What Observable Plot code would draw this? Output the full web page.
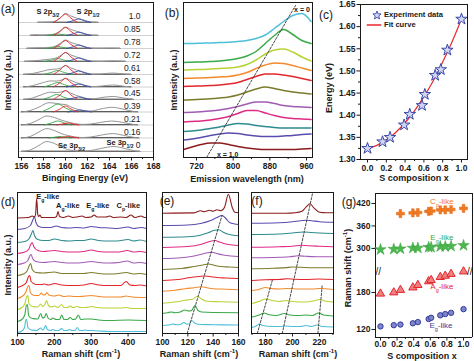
<!DOCTYPE html>
<html><head><meta charset="utf-8">
<script src="https://cdn.jsdelivr.net/npm/d3@7"></script>
<script src="https://cdn.jsdelivr.net/npm/@observablehq/plot@0.6"></script>
<style>
body{margin:0;background:#fff;}
#fig{position:relative;width:474px;height:361px;overflow:hidden;background:#fff;font-family:"Liberation Sans",Arial,sans-serif;}
.lbl{position:absolute;white-space:nowrap;line-height:1;transform:translate(-50%,-50%);font-weight:bold;font-size:9px;color:#1a1a1a;}
.lbl sub,.lbl sup{font-size:68%;line-height:0;}
.tagp{font-weight:normal;font-size:12px;}
</style>
</head><body><div id="fig"></div>
<script>
// ---------------- DATA ----------------
const comps = ["0","0.16","0.21","0.39","0.45","0.58","0.61","0.72","0.78","0.85","1.0"];
const sX = [0,0.16,0.24,0.39,0.45,0.58,0.61,0.72,0.78,0.85,1.0];
const compColors = ["#4ebfd8","#3aa947","#b6d436","#f38a2c","#e3262b","#7b7c2b","#a25bb4","#e02b86","#2e8b8e","#5a4cae","#8c1c1e"];

// (a) XPS, per composition: [x, rel. intensity] pairs
const xpsBase = [6,19.5,32.5,45.5,58,70.5,83,96,109,122,135];
const xpsEnv = [
 [156,0,156.8,1.5,157.5,5.5,158.3,10,159,8,159.6,4.5,160.2,2,160.8,0.8,161.5,0.4,162.3,1,163.2,3,164.4,5,165.4,3,166.4,0.5,166.8,0],
 [156,0,156.8,1.5,157.5,5.5,158.3,9.4,159,7.5,159.6,4.5,160.2,2.5,160.8,1.2,161.5,0.5,162.3,1,163.2,2.8,164.3,4.4,165.3,2.6,166.3,0.5,166.7,0],
 [156,0,156.8,1.5,157.5,5,158.3,9,159,7.5,159.6,5,160.2,3,160.8,1.5,161.5,0.6,162.3,1,163.2,2.6,164.2,4,165.2,2.6,166.2,0.5,166.6,0],
 [156,0,156.8,1.5,157.6,5,158.5,9.3,159.2,8.5,159.6,7.8,160,7.5,160.5,5,161,3,161.6,1.5,162.3,1,163.2,3,164.2,4.7,165.2,3,166.2,0.5,166.6,0],
 [156.2,0,157,1.5,158,5.5,158.6,7.3,159.2,7,159.6,7.5,160,8.8,160.5,6.3,161,4,161.5,2.4,162,1,162.6,0.8,163.3,2,164.3,3,165.3,1.5,166.2,0],
 [156.2,0,157,1.3,158,4.5,158.6,6,159.2,6,159.6,6.8,160,8.8,160.5,6.5,161,4.3,161.5,2.8,162,1,162.6,0.4,163.3,1,164.3,2,165.5,0.5,166,0],
 [156.2,0,157,1,158,3.5,158.6,5,159.2,5.5,159.6,6.5,160,9,160.5,6.5,161,4.5,161.5,3,162,1.2,162.6,0.3,163.2,0.5,164.3,1.5,165.5,0.3,166,0],
 [156.3,0,157.3,0.8,158.3,2,159,3,159.5,5.5,160,9,160.5,6.5,161,4.5,161.5,3,162,1.2,162.6,0.2,163.2,0,164.3,0.6,165.5,0],
 [156.5,0,157.2,0.6,158,0.8,158.6,1.2,159,2,159.5,5,160,8.5,160.5,6,161,4.3,161.5,2.8,162,1,162.5,0.2,163,0,164,0.3,165,0],
 [156.8,0,157.3,0.6,157.8,0.3,158.5,0.8,159,1.5,159.5,4.5,160,8.5,160.5,6,161,4.3,161.5,2.8,162,1,162.5,0.2,163,0],
 [157.5,0,158.5,0.3,159,1,159.5,4.5,160,9,160.5,6.5,161,4.5,161.5,3,162,1.2,162.5,0.3,163,0]
];
const xpsRed = [
 null,
 [159.3,0,159.8,0.8,160.2,1.5,160.7,0.8,161.2,0],
 [159.2,0,159.7,1,160.2,2,160.7,1,161.2,0],
 [158.9,0,159.5,3,160,6,160.5,3,161.1,0],
 [158.9,0,159.5,4.5,160,9,160.5,4.5,161.1,0],
 [158.9,0,159.5,4.3,160,8.5,160.5,4.3,161.1,0],
 [158.9,0,159.5,4.5,160,9,160.5,4.5,161.1,0],
 [158.9,0,159.5,4.5,160,9,160.5,4.5,161.1,0],
 [158.9,0,159.5,4,160,8,160.5,4,161.1,0],
 [158.9,0,159.5,4,160,8,160.5,4,161.1,0],
 [158.9,0,159.5,4.3,160,8.5,160.5,4.3,161.1,0]
];
const xpsBlue = [
 null, null, null,
 [160.2,0,160.8,1,161.3,2,161.8,1,162.4,0],
 [160.1,0,160.7,1.3,161.2,2.5,161.7,1.3,162.3,0],
 [160.1,0,160.7,1.6,161.2,3,161.7,1.6,162.3,0],
 [160.1,0,160.7,1.8,161.2,3.5,161.7,1.8,162.3,0],
 [160.1,0,160.7,1.8,161.2,3.5,161.7,1.8,162.3,0],
 [160.1,0,160.7,1.7,161.2,3.3,161.7,1.7,162.3,0],
 [160.1,0,160.7,1.7,161.2,3.2,161.7,1.7,162.3,0],
 [160.1,0,160.7,1.8,161.2,3.5,161.7,1.8,162.3,0]
];
const xpsGreen = [
 null,
 [158.5,0,159,0.8,159.5,1.5,160,0.8,160.5,0],
 [158.1,0,158.7,2,159.3,4,159.9,2,160.5,0],
 [157.8,0,158.6,4,159.3,8,160,4,160.8,0],
 [157.9,0,158.6,2.5,159.2,5,159.8,2.5,160.5,0],
 [158,0,158.7,2.3,159.3,4.5,159.9,2.3,160.6,0],
 [158,0,158.7,2,159.3,4,159.9,2,160.6,0],
 [158.1,0,158.8,1.5,159.3,3,159.8,1.5,160.5,0],
 [158.2,0,158.8,1,159.3,2,159.8,1,160.4,0],
 [158.3,0,158.8,0.8,159.3,1.5,159.8,0.8,160.3,0],
 null
];
const xpsTicks = [156,158,160,162,164,166,168];
const xpsMinor = [157,159,161,163,165,167];

// (b) PL spectra on a wavelength grid (nm)
const plGrid = [692,710,730,750,770,790,810,830,850,870,890,910,930,950,970];
const plOff = [114,95,87.5,79,71,57.5,45,35.5,26,17.5,8];
const plVals = [
 [0,0,0.3,0.6,1,1.3,2,3,5,8.5,15,22,28,30,22],
 [0,0.3,0.6,1,1.5,2.5,4,6.5,11,19,27,33,28,22,19],
 [0,0.3,0.5,1,1.5,2,3,5.5,10,16,20,21,18,13,9],
 [0,0.3,0.6,1,1.5,2,3.5,6,10,13.5,15.5,15,13,10.5,8],
 [0,0.3,0.6,1,1.5,2.5,4,7,10,12.5,12.5,11.5,10,8,6],
 [0,0.3,0.7,1.2,2,3,5,8,11,13,11.5,9.5,8,7,6],
 [0,0.3,0.8,1.5,2.5,4,6,8.5,10.5,10.5,9,7,6,5.5,5],
 [0,0.5,1,2,3.5,5.5,8.5,11.5,11.5,9,6.5,4.5,3.5,3,2.5],
 [0,0.5,1.5,3,4.5,6.5,8,7.5,6,5,4,3.5,3.5,3.5,3.5],
 [0,1,2.5,4.5,6,7,6.5,5,4,3.5,3.5,4,4.5,5.5,6],
 [0,2.5,5,6.5,6.5,5,3,1.5,0.5,0,0,0,0,0.5,1]
];
const plTrend = [[742,0],[936,152]];
const plTicks = [720,800,880,960];
const plMinor = [760,840,920];

// (c) band gap vs composition
const energy = [1.325,1.340,1.350,1.378,1.402,1.422,1.447,1.490,1.503,1.547,1.617];
const fitX = [0,0.1,0.2,0.3,0.4,0.5,0.6,0.7,0.8,0.9,1.0];
const fitE = [1.325,1.332,1.344,1.361,1.383,1.410,1.442,1.478,1.520,1.566,1.617];
const eTicks = [1.30,1.35,1.40,1.45,1.50,1.55,1.60,1.65];
const eMinor = [1.325,1.375,1.425,1.475,1.525,1.575,1.625];
const sTicks = [0,0.2,0.4,0.6,0.8,1.0];
const sMinor = [0.1,0.3,0.5,0.7,0.9];

// (d) Raman 100-450 cm-1
const ramanDOff = [1,12,24,35,46,58,69,80,91,104,115];
const ramanD = [
 [100,0,112,1.5,119,5,123,13,125,13,128,5,138,2.5,152,2,163,4.5,168,2.5,172,3.5,176,7,181,3,190,2,196,3,203,2,212,2,220,4,226,2,235,2,241,3,248,2,256,2,262,5,268,2,278,2,283,2.5,292,2,300,2,320,1.5,350,1,400,1,450,1],
 [100,0,112,2,120,7,124,16,127,17,130,6,140,3,155,2.5,163,8,168,3.5,173,4,178,8,183,3.5,190,2,196,3.5,205,2,214,2,220,6.5,226,2,235,2,243,4,250,2,258,2.5,265,6.5,272,2,285,2.5,300,2.5,320,1.5,350,1,400,1.5,450,1],
 [100,0,112,2,120,6,125,13,128,14,131,6,140,3,155,2.5,163,5.5,168,3,174,5,179,9,184,4,192,2.5,200,3.5,210,2,220,5,226,2,235,2,244,3.5,250,2,262,3,270,2,285,2,300,3,315,2,350,1.5,380,1.5,395,2,410,1,450,1],
 [100,0,112,2,122,6,128,12,131,13,135,6,145,3,158,3,165,5.5,170,3.5,176,4,180,6,185,3.5,200,2.5,212,3.5,225,2,240,2.5,255,2,270,2,300,3,320,2,350,1.5,380,1.5,395,2.5,410,1.5,450,1],
 [100,0,114,2,124,5,130,11,133,12,137,6,150,3,165,3,172,3.5,185,2.5,200,4,220,2.5,250,2,280,2.5,300,4,320,2.5,350,2,380,2,395,6,405,2.5,420,2,432,2.5,450,1.5],
 [100,0,116,1.5,126,4.5,132,10,136,12,140,6,150,3,170,2.5,200,3.5,220,2,250,2,280,2,300,3,320,2,350,1.5,375,2,395,3,415,1.5,432,2,450,1],
 [100,0,118,1.5,128,4,134,9,137,10,141,6,150,3,170,2,200,3,220,2,250,1.5,280,2,300,3,320,2,350,1.5,375,2,398,3.5,415,1.5,432,2,450,1],
 [100,0,120,1.5,130,4,136,9,140,11,144,7,155,3,170,2,200,3,220,2,250,1.5,280,2,300,3.5,320,2,350,1.5,375,1.5,398,3,415,1.5,432,2,450,1],
 [100,0,120,1,132,4,138,9,142,12,146,7,155,3,170,2,185,2,200,3.5,220,2,240,1.5,260,2,280,2,300,3.5,320,2,350,1.5,370,1.5,400,3,415,1.5,432,2.5,450,1],
 [100,0,120,1,135,4,142,10,146,13,150,7,158,3,170,2,190,2,205,3.5,220,2,240,1.5,260,2,280,1.5,300,3,320,2,350,1.5,370,1,400,2.5,415,1,435,2,450,1],
 [100,0.5,130,1,140,2.5,146,1.5,149,4,152,20,155,4,158,2,161,3.5,165,1,200,1,206,2,210,7,214,2,225,1,238,2.5,250,1,262,1.5,275,2.5,285,1,300,1.5,308,3.5,316,1.5,340,1.5,350,2.5,360,1,380,1.5,395,1,408,3.5,418,1,425,1.5,435,2.5,445,1,450,1]
];
const dTicks = [100,200,300,400];
const dMinor = [150,250,350];

// (e) Raman 100-160 cm-1
const ramanEOff = [8,20,30.3,42.3,53,64,75,86,96.3,108,120.3];
const ramanE = [
 [100,0,105,0.5,108,1.5,111,0.8,114,1,117,3,119,1.5,121,1.5,123,5,126,2,130,1,140,0.8,160,0.5],
 [100,0,104,0.8,107,1.5,110,0.8,114,1.5,117.6,3.5,121,2.5,123,3,125.6,8,128,3,131,1.5,140,1,160,0.8],
 [100,0,108,1,114,2,118,3,121,3.5,124,4,127.5,7,131,4,135,2,145,1.5,160,1],
 [100,0,110,1,118,2.5,125,3.5,131,4.5,135,3.5,140,2.5,150,2,160,1.5],
 [100,0,112,1,122,3,129,4,133,4.5,137,4,143,3,150,2.5,160,2],
 [100,0,115,1,125,3,132,4.5,136.5,5.5,140,4.5,146,3,153,2.5,160,2],
 [100,0,115,0.8,125,2.5,133,5,139,6.3,143,5,148,3.5,154,2.5,160,2],
 [100,0,120,1,130,3,136,5.5,141.5,7,145,5.5,150,3.5,155,2.5,160,2],
 [100,0,120,0.5,130,2,136,4.5,141,7,144.5,7.5,148,5,152,3,156,2,160,1.5],
 [100,0,120,0.5,130,2,138,5,143,8,147,10,150,7,153,3,157,1.5,160,1],
 [100,0,125,0.3,130,2.5,133,1.5,137,3,140,2,143,3.5,146,2.5,149,6,152,19,155,6,157,1,160,0.5]
];
const eTrend = [[119.5,0],[147,118]];
const eTicksX = [100,120,140,160];
const eMinorX = [110,130,150];

// (f) Raman 170-230 cm-1
const ramanFOff = [6,16.5,30,43,53,64.7,75.7,86.3,99,110.3,120.3];
const ramanF = [
 [170,0,173,1.5,175.5,3.5,178,2,185,1,190,1,195,1.5,200,1,206,1,210,2,214,1,218,2.5,222,1,230,0.5],
 [170,0,173,1,177,3,179,4,182,2.5,188,1.5,194,3.5,198,2,205,1.5,210,2,215,1.5,219,4,223,2,230,1],
 [170,0,175,2,180,4.5,185,3,190,2,195,3,200,2,210,1.5,217,3,220,4,224,2.5,230,1.5],
 [170,0,175,1,180,3,184,2,190,1.5,196,2,205,1.5,215,1.5,220,2,230,1],
 [170,0,180,0.8,190,1,196,1.8,202,1.2,210,1,220,1.5,230,1],
 [170,0,185,0.5,195,1.2,200,1.8,206,1.5,215,1,230,1],
 [170,0,190,0.5,198,1,204,2,210,1.5,220,1,230,1],
 [170,0,190,0.5,200,1,206,2,212,1.5,220,1,230,0.5],
 [170,0,190,0.5,200,1.5,208,2.5,214,2,220,1.5,230,1],
 [170,0,190,0.5,200,1.5,206,2.5,210,3,214,2.5,220,1.5,230,1],
 [170,0,195,0,202,0.5,207,2,210,6,213,9.5,216,5,220,1,225,0.5,230,0.5]
];
const fTrends = [[[173.9,0],[185,53]],[[192.4,0],[215,141]],[[218.8,0],[222,48]]];
const fTicksX = [180,200,220];
const fMinorX = [170,190,210,230];

// (g) Raman mode positions vs composition
const cpX = [0.24,0.39,0.45,0.58,0.61,0.72,0.78,0.85,1.0];
const cpY = [393,395,396,399,400,403,403,404,407];
const egUpY = [297,298,299,301,301,303,303,305,305,306,308];
const agY = [178,180,184,188,192,198,200,205,207,210,214];
const egLowY = [125,127,128,130,132,137,139,143,145,147,153];
const gUpTicks = [300,360,420];
const gLowTicks = [120,180];
const gXDomain = [-0.06,1.108];
const gUpDomain = [249,446.7];
const gLowDomain = [107,220.5];

// ---------------- HELPERS ----------------
const fig = document.getElementById("fig");
const FONT = '"Liberation Sans", Arial, sans-serif';
const INK = "#1a1a1a";
function pairs(flat, off) { const r = []; for (let i = 0; i < flat.length; i += 2) r.push([flat[i], flat[i + 1] + off]); return r; }
function panel({left, top, width, height, mL = 2, mR = 2, mT = 2, mB = 16, x, y, marks}) {
  const p = Plot.plot({
    width: width + mL + mR, height: height + mT + mB,
    marginLeft: mL, marginRight: mR, marginTop: mT, marginBottom: mB,
    x: {label: null, ...x}, y: {label: null, ...y},
    style: {fontFamily: FONT, fontSize: "8.5px", fontWeight: "bold", color: INK, background: "transparent", overflow: "visible"},
    marks
  });
  p.style.position = "absolute";
  p.style.left = (left - mL) + "px";
  p.style.top = (top - mT) + "px";
  p._l = left - mL; p._t = top - mT;
  fig.appendChild(p);
  return p;
}
function xAxis(major, minor, fmt, pad = 1.5) {
  const a = [Plot.axisX(major, {tickSize: 3.5, tickPadding: pad, label: null, stroke: INK, ...(fmt ? {tickFormat: fmt} : {})})];
  if (minor) a.unshift(Plot.axisX(minor, {tickSize: 2, label: null, stroke: INK, tickFormat: () => ""}));
  return a;
}
function yAxis(major, minor, fmt) {
  const a = [Plot.axisY(major, {tickSize: 3.5, tickPadding: 1.5, label: null, stroke: INK, ...(fmt ? {tickFormat: fmt} : {})})];
  if (minor) a.unshift(Plot.axisY(minor, {tickSize: 2, label: null, stroke: INK, tickFormat: () => ""}));
  return a;
}
function tag(html, x, y, style = {}, cls = "lbl") {
  const d = document.createElement("div");
  d.className = cls; d.innerHTML = html;
  d.style.left = x + "px"; d.style.top = y + "px";
  Object.assign(d.style, style);
  fig.appendChild(d);
  return d;
}
function tagAt(p, xv, yv, html, style) {
  return tag(html, p._l + p.scale("x").apply(xv), p._t + p.scale("y").apply(yv), style);
}
const frame = () => Plot.frame({stroke: INK, strokeWidth: 1});

// ---------------- (a) XPS ----------------
const pa = panel({left: 18, top: 2, width: 135, height: 155,
  x: {domain: [155.73, 168]}, y: {domain: [0, 155], axis: null},
  marks: [
    Plot.ruleY(xpsBase, {stroke: "#c6c6c6", strokeWidth: 0.8}),
    ...xpsEnv.map((e, i) => Plot.ruleY([xpsBase[i] + 0.3], {x1: e[0], x2: e[e.length - 2], stroke: "#3c3c3c", strokeWidth: 1})),
    ...xpsEnv.map((e, i) => Plot.line(pairs(e, xpsBase[i]), {stroke: "#959595", strokeWidth: 1, curve: "monotone-x"})),
    ...xpsGreen.map((e, i) => e ? Plot.line(pairs(e, xpsBase[i]), {stroke: "#3aa647", strokeWidth: 0.9, curve: "monotone-x"}) : null),
    ...xpsBlue.map((e, i) => e ? Plot.line(pairs(e, xpsBase[i]), {stroke: "#3446a8", strokeWidth: 0.9, curve: "monotone-x"}) : null),
    ...xpsRed.map((e, i) => e ? Plot.line(pairs(e, xpsBase[i]), {stroke: "#e8262b", strokeWidth: 0.9, curve: "monotone-x"}) : null),
    Plot.text(xpsBase, {y: d => d + 6, text: (d, i) => comps[i], frameAnchor: "right", dx: -13, fontSize: 8.5, fontWeight: "normal", fill: INK}),
    frame(),
    ...xAxis(xpsTicks, xpsMinor)
  ]});
tagAt(pa, 158.45, 145, "S 2p<sub>3/2</sub>", {fontSize: "7.5px"});
tagAt(pa, 162.1, 145, "S 2p<sub>1/2</sub>", {fontSize: "7.5px"});
tagAt(pa, 160.6, 11, "Se 3p<sub>3/2</sub>", {fontSize: "7.5px"});
tagAt(pa, 165.0, 14, "Se 3p<sub>1/2</sub>", {fontSize: "7.5px"});

// ---------------- (b) PL ----------------
const pb = panel({left: 183, top: 2, width: 129, height: 155,
  x: {domain: [691.6, 973.1]}, y: {domain: [0, 155], axis: null},
  marks: [
    ...plVals.map((v, i) => Plot.line(plGrid.map((w, j) => [w, v[j] + plOff[i]]), {stroke: compColors[i], strokeWidth: 1.5, curve: "monotone-x"})),
    Plot.line(plTrend, {stroke: "#333", strokeWidth: 0.9, strokeDasharray: "2.2,1.6"}),
    Plot.text([["x = 0", 950, 148], ["x = 1.0", 788, 3]], {x: d => d[1], y: d => d[2], text: d => d[0], fontSize: 7, fill: INK}),
    frame(),
    ...xAxis(plTicks, plMinor)
  ]});

// ---------------- (c) Energy ----------------
const pc = panel({left: 360, top: 4, width: 107, height: 155, mL: 32, mR: 4, mT: 4, mB: 16,
  x: {domain: [-0.0745, 1.064]}, y: {domain: [1.30, 1.65]},
  marks: [
    Plot.line(fitX.map((x, i) => [x, fitE[i]]), {stroke: "#e8272d", strokeWidth: 1.2, curve: "natural"}),
    Plot.dot(sX.map((x, i) => [x, energy[i]]), {symbol: "star", r: 3.6, stroke: "#3b49a8", fill: "#d3d6f3", strokeWidth: 1}),
    frame(),
    ...xAxis(sTicks, sMinor, d3.format(".1f")),
    ...yAxis(eTicks, eMinor, d3.format(".2f"))
  ]});
// legend
tag('<svg width="9" height="9" style="display:block"><polygon points="4.5,0.5 5.6,3.3 8.6,3.4 6.3,5.4 7,8.5 4.5,6.8 2,8.5 2.7,5.4 0.4,3.4 3.4,3.3" fill="#d3d6f3" stroke="#3b49a8" stroke-width="0.9"/></svg>', 377, 15);
tag("Experiment data", 384, 15, {transform: "translate(0,-50%)", fontSize: "7.6px"});
tag('<svg width="15" height="4" style="display:block"><line x1="0" y1="2" x2="15" y2="2" stroke="#e8272d" stroke-width="1.3"/></svg>', 374, 25);
tag("Fit curve", 384, 25, {transform: "translate(0,-50%)", fontSize: "7.6px"});

// ---------------- (d) Raman ----------------
const pd = panel({left: 17, top: 192, width: 129, height: 141,
  x: {domain: [100, 450]}, y: {domain: [0, 141], axis: null},
  marks: [
    ...ramanD.map((r, i) => Plot.line(pairs(r, ramanDOff[i]), {stroke: compColors[i], strokeWidth: 1.1, curve: "monotone-x"})),
    frame(),
    ...xAxis(dTicks, dMinor)
  ]});
const likeL = {transform: "translate(0,-50%)", fontSize: "7.5px"};
tagAt(pd, 152, 136, "E<sub>g</sub>-like", likeL);
tagAt(pd, 206, 127, "A<sub>g</sub>-like", likeL);
tagAt(pd, 288, 127, "E<sub>g</sub>-like", likeL);
tagAt(pd, 370, 127, "C<sub>p</sub>-like", likeL);

// ---------------- (e) Raman zoom ----------------
const pe = panel({left: 162, top: 192, width: 76, height: 141,
  x: {domain: [100, 160]}, y: {domain: [0, 141], axis: null},
  marks: [
    ...ramanE.map((r, i) => Plot.line(pairs(r, ramanEOff[i]), {stroke: compColors[i], strokeWidth: 1.1, curve: "monotone-x"})),
    Plot.line(eTrend, {stroke: "#333", strokeWidth: 0.9, strokeDasharray: "2.2,1.6"}),
    frame(),
    ...xAxis(eTicksX, eMinorX)
  ]});

// ---------------- (f) Raman zoom ----------------
const pf = panel({left: 251, top: 192, width: 82, height: 141,
  x: {domain: [169.6, 230.4]}, y: {domain: [0, 141], axis: null},
  marks: [
    ...ramanF.map((r, i) => Plot.line(pairs(r, ramanFOff[i]), {stroke: compColors[i], strokeWidth: 1.1, curve: "monotone-x"})),
    ...fTrends.map(t => Plot.line(t, {stroke: "#333", strokeWidth: 0.9, strokeDasharray: "2.2,1.6"})),
    frame(),
    ...xAxis(fTicksX, fMinorX)
  ]});

// ---------------- (g) Raman mode positions (broken axis) ----------------
const gUp = panel({left: 375, top: 193, width: 97, height: 74, mL: 20, mR: 2, mT: 2, mB: 0,
  x: {domain: gXDomain, axis: null}, y: {domain: gUpDomain},
  marks: [
    Plot.ruleX(gXDomain, {stroke: INK, strokeWidth: 1}),
    Plot.ruleY([gUpDomain[1]], {stroke: INK, strokeWidth: 1}),
    Plot.dot(cpX.map((x, i) => [x, cpY[i]]), {symbol: "cross", r: 3.4, fill: "#f07a22", stroke: "#e0691a", strokeWidth: 0.5}),
    Plot.dot(sX.map((x, i) => [x, egUpY[i]]), {symbol: "star", r: 3.6, fill: "#4cb84f", stroke: "#3a9c3d", strokeWidth: 0.5}),
    ...yAxis(gUpTicks, null)
  ]});
const gLow = panel({left: 375, top: 267, width: 97, height: 70, mL: 20, mR: 2, mT: 0, mB: 16,
  x: {domain: gXDomain}, y: {domain: gLowDomain},
  marks: [
    Plot.ruleX(gXDomain, {stroke: INK, strokeWidth: 1}),
    Plot.ruleY([gLowDomain[0]], {stroke: INK, strokeWidth: 1}),
    Plot.dot(sX.map((x, i) => [x, agY[i]]), {symbol: "triangle", r: 3.1, fill: "#f07f80", stroke: "#e2262d", strokeWidth: 1}),
    Plot.dot(sX.map((x, i) => [x, egLowY[i]]), {symbol: "circle", r: 2.7, fill: "#7d86cc", stroke: "#333d9a", strokeWidth: 1}),
    Plot.text(["//"], {text: d => d, frameAnchor: "top-left", fontSize: 10, fontWeight: "normal", fill: INK}),
    Plot.text(["//"], {text: d => d, frameAnchor: "top-right", fontSize: 10, fontWeight: "normal", fill: INK}),
    ...xAxis(sTicks, sMinor, d3.format(".1f"), 0),
    ...yAxis(gLowTicks, null)
  ]});
const gl = {fontSize: "8px", fontWeight: "normal"};
tagAt(gUp, 0.745, 422.7, "C<sub>p</sub>-like", {...gl, color: "#f07a22"});
tagAt(gUp, 0.745, 326.7, "E<sub>g</sub>-like", {...gl, color: "#3aa647"});
tagAt(gLow, 0.745, 188, "A<sub>g</sub>-like", {...gl, color: "#e2262d"});
tagAt(gLow, 0.735, 125, "E<sub>g</sub>-like", {...gl, color: "#333d9a"});

// ---------------- axis titles & panel tags ----------------
const rot = {transform: "translate(-50%,-50%) rotate(-90deg)"};
tag("Binging Energy (eV)", 85, 178);
tag("Intensity (a.u.)", 8, 80, rot);
tag("Emission wavelength (nm)", 247, 179);
tag("Intensity (a.u.)", 174, 80, rot);
tag("S composition x", 414, 178);
tag("Energy (eV)", 329, 88, rot);
tag("Raman shift (cm<sup>-1</sup>)", 81, 354);
tag("Intensity (a.u.)", 8, 265, rot);
tag("Raman shift (cm<sup>-1</sup>)", 199, 354);
tag("Raman shift (cm<sup>-1</sup>)", 298, 354);
tag("S composition x", 422, 355.5);
tag("Raman shift (cm<sup>-1</sup>)", 348, 268, rot);
tag("(a)", 8, 9, {}, "lbl tagp");
tag("(b)", 172, 13, {}, "lbl tagp");
tag("(c)", 326, 15, {}, "lbl tagp");
tag("(d)", 8, 202, {}, "lbl tagp");
tag("(e)", 167, 201, {}, "lbl tagp");
tag("(f)", 257, 201, {}, "lbl tagp");
tag("(g)", 349, 202, {}, "lbl tagp");
</script>
</body></html>
